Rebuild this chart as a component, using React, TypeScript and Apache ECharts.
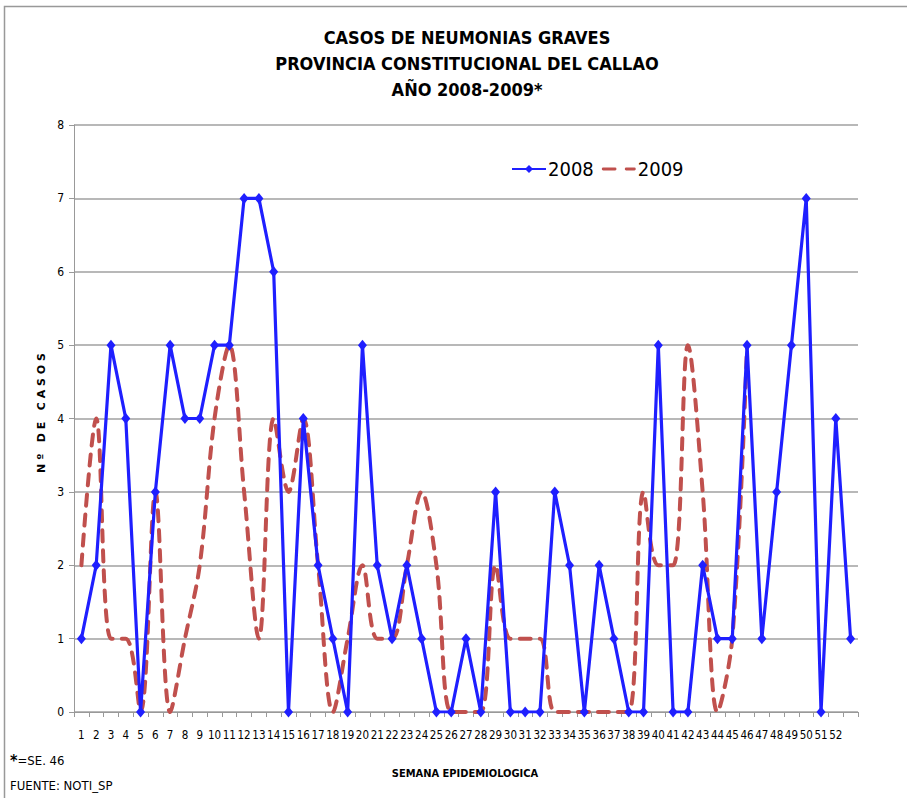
import React, { useEffect, useRef } from "react";
import * as echarts from "echarts";

const weeks: string[] = [
  "1","2","3","4","5","6","7","8","9","10","11","12","13","14","15","16","17","18","19","20",
  "21","22","23","24","25","26","27","28","29","30","31","32","33","34","35","36","37","38","39","40",
  "41","42","43","44","45","46","47","48","49","50","51","52","",
];

const cases2008: number[] = [
  1, 2, 5, 4, 0, 3, 5, 4, 4, 5, 5, 7, 7, 6, 0, 4, 2, 1, 0, 5,
  2, 1, 2, 1, 0, 0, 1, 0, 3, 0, 0, 0, 3, 2, 0, 2, 1, 0, 0, 5,
  0, 0, 2, 1, 1, 5, 1, 3, 5, 7, 0, 4, 1,
];

const cases2009: number[] = [
  2, 4, 1, 1, 0, 3, 0, 1, 2, 4, 5, 3, 1, 4, 3, 4, 2, 0, 1, 2,
  1, 1, 2, 3, 2, 0, 0, 0, 2, 1, 1, 1, 0, 0, 0, 0, 0, 0, 3, 2,
  2, 5, 3, 0, 1, 5,
];

const yTicks = [0, 1, 2, 3, 4, 5, 6, 7, 8];

const titleLines = [
  "CASOS DE NEUMONIAS GRAVES",
  "PROVINCIA CONSTITUCIONAL DEL CALLAO",
  "AÑO 2008-2009*",
];

const NARROW = "'Liberation Sans Narrow', 'DejaVu Sans Condensed', 'Arial Narrow', sans-serif";

export default function App() {
  const ref = useRef<HTMLDivElement>(null);
  useEffect(() => {
    if (!ref.current) return;
    const chart = echarts.init(ref.current, null, { renderer: "svg" });
    chart.setOption({
      animation: false,
      backgroundColor: "#ffffff",
      title: {
        text: titleLines.join("\n"),
        left: 462,
        top: 19,
        textAlign: "center",
        textStyle: {
          fontFamily: NARROW,
          fontWeight: "bold",
          fontSize: 18,
          lineHeight: 26,
          color: "#000",
        },
      },
      legend: {
        left: 506,
        top: 154,
        itemWidth: 34,
        itemHeight: 10,
        itemGap: 8,
        textStyle: { fontFamily: NARROW, fontSize: 20, color: "#000", padding: [0, 0, 0, -3] },
        data: [
          { name: "2008" },
          {
            name: "2009",
            icon: "path://M0,3.5 L13,3.5 A1.5,1.5 0 0 1 13,6.5 L0,6.5 A1.5,1.5 0 0 1 0,3.5 Z M25,3.5 L34,3.5 A1.5,1.5 0 0 1 34,6.5 L25,6.5 A1.5,1.5 0 0 1 25,3.5 Z",
            itemStyle: { color: "#c0504d" },
          },
        ],
      },
      grid: { left: 74, right: 49, top: 125, bottom: 86, containLabel: false },
      xAxis: {
        type: "category",
        data: weeks,
        boundaryGap: true,
        axisLine: { lineStyle: { color: "#999", width: 1 } },
        axisTick: { show: true, length: 5, lineStyle: { color: "#999" } },
        axisLabel: {
          interval: 0,
          fontFamily: NARROW,
          fontSize: 11.5,
          color: "#000",
          margin: 17,
        },
      },
      yAxis: {
        type: "value",
        min: yTicks[0],
        max: yTicks[yTicks.length - 1],
        interval: 1,
        axisLine: { show: true, lineStyle: { color: "#999", width: 1 } },
        axisTick: { show: true, length: 5, lineStyle: { color: "#999" } },
        axisLabel: { fontFamily: NARROW, fontSize: 12, color: "#000", margin: 10 },
        splitLine: { lineStyle: { color: "#a0a0a0", width: 1.5 } },
      },
      series: [
        {
          name: "2008",
          type: "line",
          data: cases2008,
          color: "#1f1fff",
          lineStyle: { color: "#1f1fff", width: 3.2 },
          itemStyle: { color: "#1f1fff" },
          symbol: "diamond",
          symbolSize: [9, 11],
          showSymbol: true,
          z: 3,
        },
        {
          name: "2009",
          type: "line",
          data: cases2009,
          color: "#c0504d",
          smooth: 0.35,
          symbol: "none",
          lineStyle: { color: "#c0504d", width: 4, type: [11, 9], cap: "round" },
          itemStyle: { color: "#c0504d" },
          z: 2,
        },
      ],
      graphic: [
        {
          type: "rect",
          shape: { x: 4.5, y: 6.5, width: 1200, height: 1200 },
          style: { fill: "none", stroke: "#999", lineWidth: 1.5 },
          silent: true,
        },
        {
          type: "text",
          x: 41,
          y: 413,
          rotation: Math.PI / 2,
          style: {
            text: "N º   D E   C A S O S",
            fontFamily: "'DejaVu Sans', sans-serif",
            fontWeight: "bold",
            fontSize: 11,
            fill: "#000",
            align: "center",
            verticalAlign: "middle",
          },
        },
        {
          type: "text",
          x: 465,
          y: 773,
          style: {
            text: "SEMANA EPIDEMIOLOGICA",
            fontFamily: NARROW,
            fontWeight: "bold",
            fontSize: 11,
            fill: "#000",
            align: "center",
            verticalAlign: "middle",
          },
        },
        {
          type: "text",
          x: 10,
          y: 760,
          style: {
            text: "{b|*}=SE. 46",
            fontFamily: NARROW,
            fontSize: 13,
            fill: "#000",
            align: "left",
            verticalAlign: "middle",
            rich: { b: { fontWeight: "bold", fontSize: 16, fontFamily: NARROW } },
          },
        },
        {
          type: "text",
          x: 10,
          y: 785,
          style: {
            text: "FUENTE: NOTI_SP",
            fontFamily: NARROW,
            fontSize: 13,
            fill: "#000",
            align: "left",
            verticalAlign: "middle",
          },
        },
      ],
    });
    return () => chart.dispose();
  }, []);
  return (
    <div
      ref={ref}
      style={{ position: "fixed", left: 0, top: 0, width: 907, height: 798 }}
    />
  );
}
